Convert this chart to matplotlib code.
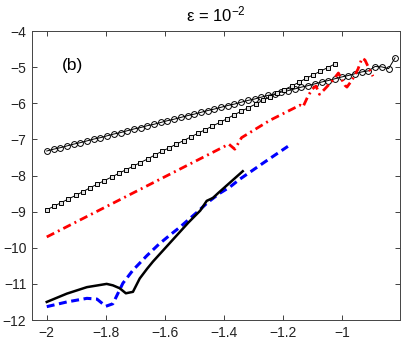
import matplotlib
matplotlib.use("Agg")
import matplotlib.pyplot as plt

plt.rcParams['font.family'] = ['Liberation Sans', 'DejaVu Sans']
plt.rcParams['mathtext.fontset'] = 'custom'
plt.rcParams['mathtext.rm'] = 'Liberation Sans'
plt.rcParams['mathtext.it'] = 'Liberation Sans:italic'

# ---- data ----
circ_x = [-2.000, -1.977, -1.955, -1.932, -1.909, -1.887, -1.864, -1.841, -1.818, -1.796,
          -1.773, -1.750, -1.728, -1.705, -1.682, -1.660, -1.637, -1.614, -1.591, -1.569,
          -1.546, -1.523, -1.501, -1.478, -1.455, -1.433, -1.410, -1.387, -1.364, -1.342,
          -1.319, -1.296, -1.274, -1.251, -1.228, -1.206, -1.183, -1.160, -1.137, -1.115,
          -1.092, -1.069, -1.047, -1.024, -1.001, -0.979, -0.956, -0.933, -0.910, -0.888,
          -0.865, -0.842, -0.820]
circ_y = [-7.32, -7.27, -7.23, -7.18, -7.13, -7.09, -7.04, -6.99, -6.95, -6.90,
          -6.85, -6.81, -6.76, -6.71, -6.67, -6.62, -6.58, -6.53, -6.48, -6.44,
          -6.39, -6.34, -6.30, -6.25, -6.20, -6.16, -6.11, -6.06, -6.02, -5.97,
          -5.92, -5.88, -5.83, -5.78, -5.74, -5.69, -5.65, -5.60, -5.55, -5.51,
          -5.46, -5.41, -5.37, -5.32, -5.27, -5.23, -5.18, -5.13, -5.10, -4.98,
          -4.99, -5.04, -4.74]

sq_x = [-2.000, -1.976, -1.951, -1.927, -1.902, -1.878, -1.854, -1.829, -1.805, -1.780,
        -1.756, -1.732, -1.707, -1.683, -1.658, -1.634, -1.610, -1.585, -1.561, -1.536,
        -1.512, -1.488, -1.463, -1.439, -1.414, -1.390, -1.366, -1.341, -1.317, -1.292,
        -1.268, -1.244, -1.219, -1.195, -1.170, -1.146, -1.122, -1.097, -1.073, -1.048,
        -1.024]
sq_y = [-8.95, -8.85, -8.75, -8.65, -8.55, -8.45, -8.34, -8.24, -8.14, -8.04,
        -7.94, -7.84, -7.74, -7.64, -7.54, -7.43, -7.33, -7.23, -7.13, -7.03,
        -6.93, -6.83, -6.73, -6.63, -6.53, -6.43, -6.32, -6.22, -6.12, -6.02,
        -5.92, -5.82, -5.72, -5.62, -5.52, -5.42, -5.31, -5.21, -5.11, -5.01,
        -4.91]

red_x = [-2.000, -1.383, -1.363, -1.340, -1.244, -1.142, -1.132, -1.115, -1.100, -1.088,
         -1.076, -1.060, -1.035, -1.012, -0.990, -0.983, -0.966, -0.946, -0.932, -0.922,
         -0.902, -0.895]
red_y = [-9.70, -7.13, -7.27, -6.95, -6.47, -6.05, -6.10, -5.80, -5.60, -5.52,
         -5.75, -5.62, -5.40, -5.16, -5.50, -5.55, -5.36, -5.06, -4.75, -4.80,
         -5.14, -5.25]

blue_x = [-2.000, -1.932, -1.864, -1.830, -1.800, -1.776, -1.742, -1.708, -1.661, -1.620,
          -1.583, -1.549, -1.490, -1.454, -1.414, -1.380, -1.346, -1.268, -1.183]
blue_y = [-11.63, -11.50, -11.40, -11.42, -11.62, -11.55, -10.98, -10.62, -10.22, -9.90,
          -9.65, -9.43, -9.01, -8.74, -8.49, -8.32, -8.10, -7.66, -7.19]

black_x = [-2.000, -1.932, -1.864, -1.797, -1.776, -1.753, -1.732, -1.708, -1.685, -1.660,
           -1.640, -1.600, -1.560, -1.520, -1.480, -1.458, -1.437, -1.420, -1.336]
black_y = [-11.50, -11.27, -11.09, -11.00, -11.04, -11.12, -11.26, -11.22, -10.85, -10.58,
           -10.38, -10.02, -9.66, -9.30, -8.97, -8.70, -8.62, -8.49, -7.88]

x_ticks = [-2, -1.8, -1.6, -1.4, -1.2, -1]
x_labels = ['\u22122', '\u22121.8', '\u22121.6', '\u22121.4', '\u22121.2', '\u22121']
y_ticks = [-12, -11, -10, -9, -8, -7, -6, -5, -4]

# ---- figure ----
fig = plt.figure(figsize=(4.07, 3.42), dpi=100)
ax = fig.add_axes([0.0786, 0.0643, 0.9044, 0.8447])

ax.plot(circ_x, circ_y, '-', color='black', lw=0.7, marker='o', ms=4.2,
        mfc='none', mec='black', mew=0.7)
ax.plot(sq_x, sq_y, '-', color='black', lw=0.7, marker='s', ms=3.3,
        mfc='#e0e0e0', mec='black', mew=0.7)
ax.plot(red_x, red_y, color='red', lw=2.0, linestyle=(0, (3.0, 1.5, 0.7, 1.5)))
ax.plot(blue_x, blue_y, color='blue', lw=2.2, linestyle=(0, (2.6, 1.5)))
ax.plot(black_x, black_y, color='black', lw=1.8, linestyle='-')

ax.text(-1.95, -4.94, '(b)', fontsize=12.5, ha='left', va='center')

ax.set_xlim(-2.05, -0.803)
ax.set_ylim(-12, -4)
ax.set_xticks(x_ticks)
ax.set_xticklabels(x_labels)
ax.set_yticks(y_ticks)
ax.tick_params(direction='in', length=3.5, width=0.6, labelsize=10,
               top=True, right=True, colors='#222222', pad=4)
for sp in ax.spines.values():
    sp.set_linewidth(0.7)
    sp.set_color('#444444')

ax.set_title('\u03b5 = 10$^{\\mathrm{-2}}$', fontsize=12, pad=7)

fig.savefig('out.png', dpi=100)
